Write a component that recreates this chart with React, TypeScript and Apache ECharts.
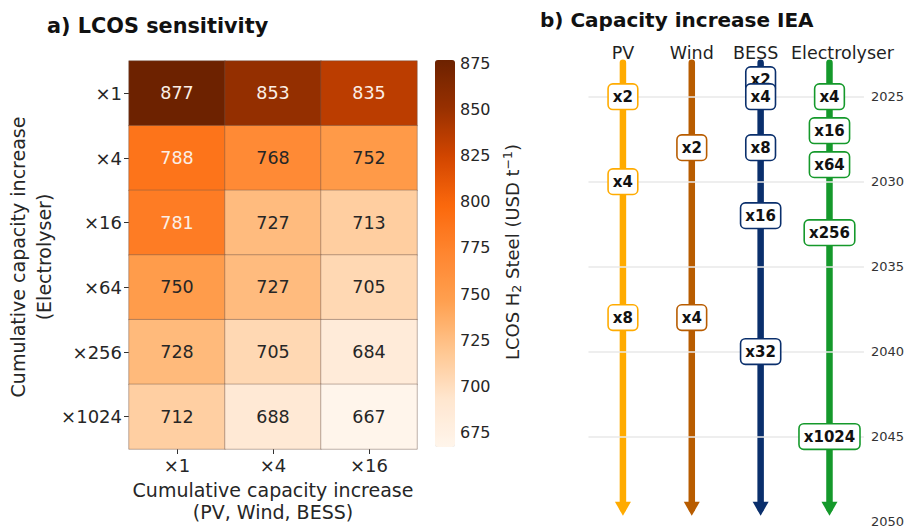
import React, { useEffect, useRef } from 'react';
import * as echarts from 'echarts';

const FONT = 'DejaVu Sans';
const TXT = '#262626';

// ---- Panel a: LCOS heatmap ----
const electrolyserRows = ['×1', '×4', '×16', '×64', '×256', '×1024'];
const renewableCols = ['×1', '×4', '×16'];
const lcosValues = [
  [877, 853, 835],
  [788, 768, 752],
  [781, 727, 713],
  [750, 727, 705],
  [728, 705, 684],
  [712, 688, 667],
];
const colorbarTicks = [675, 700, 725, 750, 775, 800, 825, 850, 875];
const colorMin = 667;
const colorMax = 877;

// ---- Panel b: IEA capacity increase ----
const techs = ['PV', 'Wind', 'BESS', 'Electrolyser'];
const techColors = ['#ffab00', '#b85c00', '#0a2f6c', '#15992b'];
const pvEvents: [number, string][] = [[2025, 'x2'], [2030, 'x4'], [2038, 'x8']];
const windEvents: [number, string][] = [[2028, 'x2'], [2038, 'x4']];
const bessEvents: [number, string][] = [[2024, 'x2'], [2025, 'x4'], [2028, 'x8'], [2032, 'x16'], [2040, 'x32']];
const electrolyserEvents: [number, string][] = [[2025, 'x4'], [2027, 'x16'], [2029, 'x64'], [2033, 'x256'], [2045, 'x1024']];
const techEvents = [pvEvents, windEvents, bessEvents, electrolyserEvents];
const yearTicks = [2025, 2030, 2035, 2040, 2045, 2050];
const gridYears = [2025, 2030, 2035, 2040, 2045];
const yearMin = 2023;
const yearMax = 2050;
const lineStartYear = 2023;
const arrowYear = 2049.25;

const heatData = lcosValues.flatMap((row, r) =>
  row.map((v, c) => ({
    value: [c, r, v],
    label: { color: v > 775 ? '#fbefe6' : TXT },
  }))
);

const headerRich: Record<string, any> = {
  PV: { padding: [0, 0, 0, 0] },
  Wind: { padding: [0, 0, 0, 0] },
  BESS: { padding: [0, 10, 0, 0] },
  Electrolyser: { padding: [0, 0, 0, 26] },
};

const option: any = {
  animation: false,
  textStyle: { fontFamily: FONT },
  grid: [
    { left: 129, top: 61, width: 288, height: 388 },
    { left: 435, top: 60, width: 20, height: 387 },
    { left: 588.5, top: 62.7, width: 276, height: 459 },
  ],
  xAxis: [
    {
      gridIndex: 0,
      type: 'category',
      data: renewableCols,
      axisLine: { show: false },
      axisTick: { show: true, alignWithLabel: true, length: 5, lineStyle: { color: '#333' } },
      axisLabel: { fontSize: 18, color: TXT, margin: 7, fontFamily: FONT },
      splitLine: { show: false },
    },
    { gridIndex: 1, type: 'value', show: false },
    {
      gridIndex: 2,
      type: 'category',
      data: techs,
      position: 'top',
      axisLine: { show: false },
      axisTick: { show: false },
      axisLabel: {
        interval: 0,
        fontSize: 17.5,
        color: '#1f1f1f',
        margin: 1,
        fontFamily: FONT,
        formatter: (v: string) => `{${v}|${v}}`,
        rich: Object.fromEntries(
          Object.entries(headerRich).map(([k, s]) => [k, { ...s, fontSize: 17.5, color: '#1f1f1f', fontFamily: FONT }])
        ),
      },
    },
  ],
  yAxis: [
    {
      gridIndex: 0,
      type: 'category',
      data: electrolyserRows,
      inverse: true,
      axisLine: { show: false },
      axisTick: { show: true, alignWithLabel: true, length: 5, lineStyle: { color: '#333' } },
      axisLabel: { fontSize: 18, color: TXT, margin: 7, fontFamily: FONT },
      splitLine: { show: false },
    },
    {
      gridIndex: 1,
      type: 'value',
      min: colorMin,
      max: colorMax,
      position: 'right',
      axisLine: { show: false },
      axisTick: { show: true, length: 4, lineStyle: { color: '#333' }, customValues: colorbarTicks },
      axisLabel: { fontSize: 16, color: TXT, margin: 5, fontFamily: FONT, customValues: colorbarTicks },
      splitLine: { show: false },
    },
    {
      gridIndex: 2,
      type: 'value',
      min: yearMin,
      max: yearMax,
      inverse: true,
      position: 'right',
      axisLine: { show: false },
      axisTick: { show: false },
      axisLabel: {
        fontSize: 13,
        color: '#333',
        margin: 7,
        fontFamily: FONT,
        customValues: yearTicks,
        formatter: (v: number) => String(v),
      },
      splitLine: { show: false },
    },
  ],
  visualMap: {
    type: 'continuous',
    seriesIndex: 0,
    min: colorMin,
    max: colorMax,
    calculable: false,
    left: 435,
    top: 60,
    itemWidth: 20,
    itemHeight: 387,
    padding: 0,
    text: ['', ''],
    inRange: {
      color: ['#fff5eb', '#ffe6cf', '#ffc690', '#ffa050', '#ff8630', '#fb680c', '#d24600', '#983000', '#6d2200'],
    },
  },
  series: [
    {
      type: 'heatmap',
      xAxisIndex: 0,
      yAxisIndex: 0,
      data: heatData,
      itemStyle: { borderColor: 'rgba(110,85,70,0.45)', borderWidth: 1 },
      label: {
        show: true,
        fontSize: 17.5,
        fontFamily: FONT,
        formatter: (p: any) => String(p.value[2]),
      },
      emphasis: { disabled: true },
    },
    {
      type: 'scatter',
      xAxisIndex: 1,
      yAxisIndex: 1,
      data: [],
    },
    {
      type: 'line',
      xAxisIndex: 2,
      yAxisIndex: 2,
      data: [],
      z: 1,
      markLine: {
        silent: true,
        symbol: ['none', 'none'],
        label: { show: false },
        lineStyle: { color: '#e8e8e8', width: 1.5, type: 'solid' },
        data: gridYears.map((y) => ({ yAxis: y })),
      },
    },
    ...techs.map((t, i) => ({
      type: 'line',
      xAxisIndex: 2,
      yAxisIndex: 2,
      z: 3,
      clip: false,
      symbol: 'none',
      lineStyle: { color: techColors[i], width: 6.5, cap: 'round' },
      itemStyle: { color: techColors[i] },
      data: [
        { value: [t, lineStartYear], symbol: 'none' },
        { value: [t, arrowYear], symbol: 'triangle', symbolSize: [16, 14], symbolRotate: 180 },
      ],
    })),
    ...techs.map((t, i) => ({
      type: 'scatter',
      xAxisIndex: 2,
      yAxisIndex: 2,
      z: 5,
      symbolSize: 0,
      itemStyle: { opacity: 1 },
      emphasis: { disabled: true },
      data: techEvents[i].map(([y, lab]) => ({ value: [t, y], name: lab })),
      label: {
        show: true,
        position: 'inside',
        formatter: (p: any) => p.name,
        fontFamily: FONT,
        fontWeight: 'bold',
        fontSize: 15,
        color: '#111',
        opacity: 1,
        backgroundColor: '#fff',
        borderColor: techColors[i],
        borderWidth: 1.6,
        borderRadius: 4,
        padding: [4, 4, 3, 4],
        lineHeight: 17,
      },
    })),
  ],
  graphic: [
    {
      type: 'text',
      x: 47,
      y: 26,
      style: { text: 'a) LCOS sensitivity', font: `bold 20.8px "${FONT}"`, fill: '#111', textVerticalAlign: 'middle' },
    },
    {
      type: 'text',
      x: 540,
      y: 20,
      style: { text: 'b) Capacity increase IEA', font: `bold 20px "${FONT}"`, fill: '#111', textVerticalAlign: 'middle' },
    },
    {
      type: 'text',
      x: 31,
      y: 257,
      rotation: Math.PI / 2,
      style: {
        text: 'Cumulative capacity increase\n(Electrolyser)',
        font: `19px "${FONT}"`,
        fill: TXT,
        textAlign: 'center',
        textVerticalAlign: 'middle',
        lineHeight: 26,
      },
    },
    {
      type: 'text',
      x: 273,
      y: 501,
      style: {
        text: 'Cumulative capacity increase\n(PV, Wind, BESS)',
        font: `19px "${FONT}"`,
        fill: TXT,
        textAlign: 'center',
        textVerticalAlign: 'middle',
        lineHeight: 22,
      },
    },
    {
      type: 'text',
      x: 512,
      y: 252,
      rotation: Math.PI / 2,
      style: {
        text: 'LCOS H{sub|2} Steel (USD t{sup|−1})',
        font: `18px "${FONT}"`,
        fill: TXT,
        textAlign: 'center',
        textVerticalAlign: 'middle',
        rich: {
          sub: { fontSize: 12.5, fontFamily: FONT, fill: TXT, padding: [8, 0, 0, 0] },
          sup: { fontSize: 12.5, fontFamily: FONT, fill: TXT, padding: [0, 0, 10, 0] },
        },
      },
    },
  ],
};

export default function App() {
  const ref = useRef<HTMLDivElement>(null);
  useEffect(() => {
    document.body.style.margin = '0';
    const chart = echarts.init(ref.current!, null, { renderer: 'svg' });
    chart.setOption(option);
    return () => chart.dispose();
  }, []);
  return <div ref={ref} style={{ width: 907, height: 528 }} />;
}
